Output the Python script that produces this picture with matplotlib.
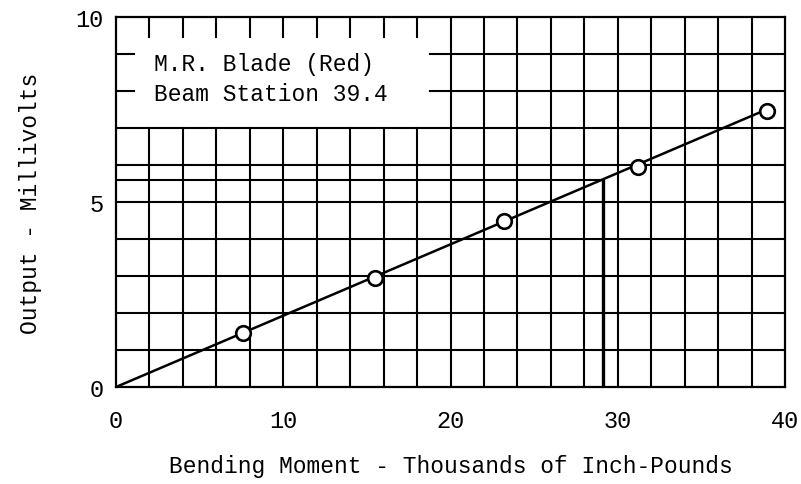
import matplotlib
matplotlib.use("Agg")
import matplotlib.pyplot as plt

# Data
moment = [7.6, 15.5, 23.2, 31.2, 38.9]          # thousands of inch-pounds
output = [1.45, 2.95, 4.5, 5.95, 7.45]          # millivolts
fit_x = [0, 38.9]
fit_y = [0, 7.5]
ref_x = 29.1
ref_y = 5.6
x_ticks = [0, 10, 20, 30, 40]
y_ticks = [0, 5, 10]
label_lines = ["M.R. Blade (Red)", "Beam Station 39.4"]

FONT = "Liberation Mono"
plt.rcParams["font.family"] = [FONT, "DejaVu Sans Mono"]

fig = plt.figure(figsize=(8.01, 4.85), dpi=100)
ax = fig.add_axes([116 / 801, 1 - 388 / 485, (785 - 116) / 801, (388 - 18) / 485])
ax.set_xlim(0, 40)
ax.set_ylim(0, 10)

lw = 1.5
box_x = 18.8   # right edge of the label box (data units)
box_y = 7.0    # bottom edge of the label box
stub_v = 0.55  # length of top stubs (y units)
stub_h = 1.1   # length of left stubs (x units)

# vertical grid lines
for gx in range(2, 40, 2):
    if gx < box_x:
        ax.plot([gx, gx], [0, box_y], color="black", lw=lw, zorder=1)
        ax.plot([gx, gx], [10 - stub_v, 10], color="black", lw=lw, zorder=1)
    else:
        ax.plot([gx, gx], [0, 10], color="black", lw=lw, zorder=1)

# horizontal grid lines
for gy in range(1, 10):
    if gy > box_y:
        ax.plot([box_x, 40], [gy, gy], color="black", lw=lw, zorder=1)
        ax.plot([0, stub_h], [gy, gy], color="black", lw=lw, zorder=1)
    else:
        ax.plot([0, 40], [gy, gy], color="black", lw=lw, zorder=1)

# reference lines
ax.plot([0, ref_x], [ref_y, ref_y], color="black", lw=lw, zorder=2)
ax.plot([ref_x, ref_x], [0, ref_y], color="black", lw=2.4, zorder=2)

# fit line and data points
ax.plot(fit_x, fit_y, color="black", lw=1.8, zorder=3)
ax.plot(moment, output, linestyle="none", marker="o", markersize=10.5,
        markerfacecolor="white", markeredgecolor="black", markeredgewidth=1.9, zorder=4)

# label box text
ax.text(2.3, 8.73, label_lines[0], fontsize=16.5, va="center", ha="left", family=FONT)
ax.text(2.3, 7.92, label_lines[1], fontsize=16.5, va="center", ha="left", family=FONT)

for s in ax.spines.values():
    s.set_linewidth(1.6)

ax.set_xticks(x_ticks)
ax.set_yticks(y_ticks)
ax.tick_params(length=0, labelsize=17)
ax.tick_params(axis="x", pad=16)
ax.tick_params(axis="y", pad=9)

ax.set_xlabel("Bending Moment - Thousands of Inch-Pounds", fontsize=16.5, labelpad=16)
ax.set_ylabel("Output - Millivolts", fontsize=16.5, labelpad=24)

fig.savefig("out.png", dpi=100)
